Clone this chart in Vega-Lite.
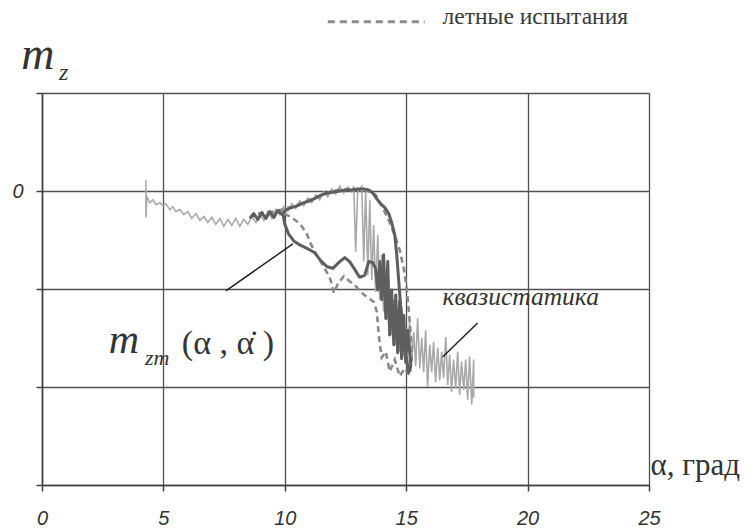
{
  "$schema": "https://vega.github.io/schema/vega-lite/v6.json",
  "autosize": {"type": "none"},
  "width": 607,
  "height": 392,
  "padding": {"left": 42, "top": 93, "right": 107, "bottom": 44},
  "background": "white",
  "config": {
    "view": {"stroke": null},
    "axis": {
      "grid": true, "gridColor": "#505050", "gridWidth": 1.3, "gridOpacity": 1,
      "domainColor": "#404040", "domainWidth": 1.6,
      "tickColor": "#404040", "tickWidth": 1.5, "tickSize": 6,
      "labelFont": "Liberation Sans", "labelFontStyle": "italic", "labelFontSize": 20, "labelColor": "#333333",
      "title": null
    },
    "text": {"font": "'Liberation Serif', 'Times New Roman', 'DejaVu Serif', serif", "color": "#333333", "align": "left", "baseline": "alphabetic"}
  },
  "datasets": {
    "q": [
      {"i":0,"a":4.28,"m":0.11},{"i":1,"a":4.28,"m":-0.27},{"i":2,"a":4.32,"m":-0.06},{"i":3,"a":4.44,"m":-0.12},
      {"i":4,"a":4.57,"m":-0.09},{"i":5,"a":4.69,"m":-0.14},{"i":6,"a":4.86,"m":-0.12},{"i":7,"a":4.98,"m":-0.15},
      {"i":8,"a":5.10,"m":-0.13},{"i":9,"a":5.27,"m":-0.19},{"i":10,"a":5.39,"m":-0.16},{"i":11,"a":5.51,"m":-0.21},
      {"i":12,"a":5.68,"m":-0.19},{"i":13,"a":5.84,"m":-0.24},{"i":14,"a":6.01,"m":-0.21},{"i":15,"a":6.17,"m":-0.28},
      {"i":16,"a":6.34,"m":-0.23},{"i":17,"a":6.50,"m":-0.30},{"i":18,"a":6.67,"m":-0.26},{"i":19,"a":6.83,"m":-0.32},
      {"i":20,"a":7.00,"m":-0.27},{"i":21,"a":7.16,"m":-0.34},{"i":22,"a":7.33,"m":-0.28},{"i":23,"a":7.49,"m":-0.36},
      {"i":24,"a":7.65,"m":-0.29},{"i":25,"a":7.82,"m":-0.35},{"i":26,"a":7.98,"m":-0.28},{"i":27,"a":8.15,"m":-0.36},
      {"i":28,"a":8.31,"m":-0.29},{"i":29,"a":8.48,"m":-0.34},{"i":30,"a":8.64,"m":-0.26},{"i":31,"a":8.81,"m":-0.32},
      {"i":32,"a":8.97,"m":-0.24},{"i":33,"a":9.14,"m":-0.30},{"i":34,"a":9.30,"m":-0.21},{"i":35,"a":9.47,"m":-0.28},
      {"i":36,"a":9.63,"m":-0.19},{"i":37,"a":9.79,"m":-0.24},{"i":38,"a":9.96,"m":-0.16},{"i":39,"a":10.12,"m":-0.21},
      {"i":40,"a":10.29,"m":-0.13},{"i":41,"a":10.45,"m":-0.18},{"i":42,"a":10.62,"m":-0.10},{"i":43,"a":10.78,"m":-0.15},
      {"i":44,"a":10.95,"m":-0.07},{"i":45,"a":11.11,"m":-0.12},{"i":46,"a":11.28,"m":-0.04},{"i":47,"a":11.44,"m":-0.09},
      {"i":48,"a":11.60,"m":-0.01},{"i":49,"a":11.77,"m":-0.06},{"i":50,"a":11.93,"m":0.02},{"i":51,"a":12.10,"m":-0.03},
      {"i":52,"a":12.26,"m":0.05},{"i":53,"a":12.43,"m":-0.02},{"i":54,"a":12.59,"m":0.04},{"i":55,"a":12.76,"m":-0.01},
      {"i":56,"a":12.84,"m":0.05},{"i":57,"a":12.92,"m":-0.62},{"i":58,"a":13.00,"m":-0.01},{"i":59,"a":13.17,"m":0.05},
      {"i":60,"a":13.25,"m":-0.72},{"i":61,"a":13.33,"m":0.01},{"i":62,"a":13.42,"m":-0.86},{"i":63,"a":13.50,"m":-0.09},
      {"i":64,"a":13.58,"m":-0.91},{"i":65,"a":13.66,"m":-0.35},{"i":66,"a":13.74,"m":-1.03},{"i":67,"a":13.83,"m":-0.45},
      {"i":68,"a":13.91,"m":-1.11},{"i":69,"a":13.99,"m":-0.65},{"i":70,"a":14.07,"m":-1.23},{"i":71,"a":14.16,"m":-0.81},
      {"i":72,"a":14.24,"m":-1.32},{"i":73,"a":14.32,"m":-1.01},{"i":74,"a":14.40,"m":-1.47},{"i":75,"a":14.49,"m":-1.11},
      {"i":76,"a":14.57,"m":-1.57},{"i":77,"a":14.65,"m":-1.23},{"i":78,"a":14.73,"m":-1.64},{"i":79,"a":14.81,"m":-1.30},
      {"i":80,"a":14.90,"m":-1.68},{"i":81,"a":14.98,"m":-1.40},{"i":82,"a":15.06,"m":-1.60},{"i":83,"a":15.14,"m":-1.34},
      {"i":84,"a":15.23,"m":-1.74},{"i":85,"a":15.31,"m":-1.44},{"i":86,"a":15.39,"m":-1.79},{"i":87,"a":15.47,"m":-1.30},
      {"i":88,"a":15.56,"m":-1.81},{"i":89,"a":15.64,"m":-1.50},{"i":90,"a":15.72,"m":-1.85},{"i":91,"a":15.80,"m":-1.42},
      {"i":92,"a":15.88,"m":-2.00},{"i":93,"a":15.97,"m":-1.57},{"i":94,"a":16.05,"m":-1.85},{"i":95,"a":16.13,"m":-1.54},
      {"i":96,"a":16.21,"m":-1.95},{"i":97,"a":16.30,"m":-1.60},{"i":98,"a":16.38,"m":-1.93},{"i":99,"a":16.46,"m":-1.64},
      {"i":100,"a":16.54,"m":-1.91},{"i":101,"a":16.63,"m":-1.49},{"i":102,"a":16.71,"m":-1.98},{"i":103,"a":16.79,"m":-1.67},
      {"i":104,"a":16.87,"m":-2.05},{"i":105,"a":16.95,"m":-1.72},{"i":106,"a":17.04,"m":-2.01},{"i":107,"a":17.12,"m":-1.64},
      {"i":108,"a":17.20,"m":-2.08},{"i":109,"a":17.28,"m":-1.74},{"i":110,"a":17.37,"m":-2.03},{"i":111,"a":17.45,"m":-1.72},
      {"i":112,"a":17.53,"m":-2.13},{"i":113,"a":17.61,"m":-1.69},{"i":114,"a":17.70,"m":-2.18},{"i":115,"a":17.78,"m":-1.72},
      {"i":116,"a":17.78,"m":-2.11}
    ],
    "ft": [
      {"i":0,"a":8.89,"m":-0.23},{"i":1,"a":9.38,"m":-0.22},{"i":2,"a":9.88,"m":-0.19},{"i":3,"a":10.45,"m":-0.15},
      {"i":4,"a":11.03,"m":-0.09},{"i":5,"a":11.60,"m":-0.03},{"i":6,"a":12.18,"m":0.01},{"i":7,"a":12.76,"m":0.02},
      {"i":8,"a":13.33,"m":0.01},{"i":9,"a":13.74,"m":-0.04},{"i":10,"a":14.07,"m":-0.19},{"i":11,"a":14.32,"m":-0.32},
      {"i":12,"a":14.57,"m":-0.48},{"i":13,"a":14.73,"m":-0.60},{"i":14,"a":14.90,"m":-0.79},{"i":15,"a":15.02,"m":-0.99},
      {"i":16,"a":15.10,"m":-1.21},{"i":17,"a":15.19,"m":-1.47},{"i":18,"a":15.23,"m":-1.72},{"i":19,"a":15.14,"m":-1.88},
      {"i":20,"a":14.94,"m":-1.81},{"i":21,"a":14.73,"m":-1.89},{"i":22,"a":14.53,"m":-1.72},{"i":23,"a":14.32,"m":-1.84},
      {"i":24,"a":14.16,"m":-1.64},{"i":25,"a":13.99,"m":-1.70},{"i":26,"a":13.87,"m":-1.47},{"i":27,"a":13.79,"m":-1.23},
      {"i":28,"a":13.66,"m":-1.13},{"i":29,"a":13.42,"m":-1.09},{"i":30,"a":13.17,"m":-1.04},{"i":31,"a":12.92,"m":-0.97},
      {"i":32,"a":12.67,"m":-0.92},{"i":33,"a":12.43,"m":-0.87},{"i":34,"a":12.18,"m":-0.95},{"i":35,"a":12.02,"m":-1.04},
      {"i":36,"a":11.89,"m":-0.91},{"i":37,"a":11.73,"m":-0.83},{"i":38,"a":11.48,"m":-0.72},{"i":39,"a":11.28,"m":-0.64},
      {"i":40,"a":11.07,"m":-0.54},{"i":41,"a":10.91,"m":-0.44},{"i":42,"a":10.70,"m":-0.36},{"i":43,"a":10.45,"m":-0.30},
      {"i":44,"a":10.21,"m":-0.26},{"i":45,"a":9.96,"m":-0.23}
    ],
    "mdl": [
      {"i":0,"a":8.56,"m":-0.28},{"i":1,"a":8.72,"m":-0.23},{"i":2,"a":8.89,"m":-0.29},{"i":3,"a":9.05,"m":-0.22},
      {"i":4,"a":9.22,"m":-0.28},{"i":5,"a":9.38,"m":-0.21},{"i":6,"a":9.55,"m":-0.27},{"i":7,"a":9.71,"m":-0.20},
      {"i":8,"a":9.88,"m":-0.24},{"i":9,"a":10.04,"m":-0.19},{"i":10,"a":10.29,"m":-0.17},{"i":11,"a":10.53,"m":-0.15},
      {"i":12,"a":10.78,"m":-0.12},{"i":13,"a":11.03,"m":-0.10},{"i":14,"a":11.28,"m":-0.07},{"i":15,"a":11.52,"m":-0.04},
      {"i":16,"a":11.77,"m":-0.02},{"i":17,"a":12.02,"m":-0.01},{"i":18,"a":12.26,"m":0.0},{"i":19,"a":12.51,"m":0.01},
      {"i":20,"a":12.76,"m":0.01},{"i":21,"a":13.00,"m":0.02},{"i":22,"a":13.25,"m":0.02},{"i":23,"a":13.46,"m":0.01},
      {"i":24,"a":13.62,"m":-0.02},{"i":25,"a":13.79,"m":-0.08},{"i":26,"a":13.95,"m":-0.13},{"i":27,"a":14.12,"m":-0.17},
      {"i":28,"a":14.28,"m":-0.23},{"i":29,"a":14.40,"m":-0.32},{"i":30,"a":14.53,"m":-0.45},{"i":31,"a":14.61,"m":-0.65},
      {"i":32,"a":14.69,"m":-0.91},{"i":33,"a":14.77,"m":-1.16},{"i":34,"a":14.86,"m":-1.37},{"i":35,"a":14.94,"m":-1.57},
      {"i":36,"a":15.02,"m":-1.72},{"i":37,"a":15.10,"m":-1.85},{"i":38,"a":15.19,"m":-1.78},{"i":39,"a":15.06,"m":-1.42},
      {"i":40,"a":14.98,"m":-1.75},{"i":41,"a":14.90,"m":-1.27},{"i":42,"a":14.81,"m":-1.71},{"i":43,"a":14.73,"m":-1.12},
      {"i":44,"a":14.65,"m":-1.65},{"i":45,"a":14.57,"m":-1.06},{"i":46,"a":14.49,"m":-1.57},{"i":47,"a":14.40,"m":-1.01},
      {"i":48,"a":14.32,"m":-1.47},{"i":49,"a":14.24,"m":-0.72},{"i":50,"a":14.16,"m":-1.30},{"i":51,"a":14.07,"m":-0.65},
      {"i":52,"a":13.99,"m":-1.11},{"i":53,"a":13.91,"m":-0.72},{"i":54,"a":13.83,"m":-1.01},{"i":55,"a":13.74,"m":-0.79},
      {"i":56,"a":13.62,"m":-0.73},{"i":57,"a":13.46,"m":-0.72},{"i":58,"a":13.29,"m":-0.86},{"i":59,"a":13.08,"m":-0.88},
      {"i":60,"a":12.88,"m":-0.80},{"i":61,"a":12.67,"m":-0.72},{"i":62,"a":12.47,"m":-0.68},{"i":63,"a":12.22,"m":-0.73},
      {"i":64,"a":11.98,"m":-0.79},{"i":65,"a":11.73,"m":-0.77},{"i":66,"a":11.48,"m":-0.71},{"i":67,"a":11.23,"m":-0.63},
      {"i":68,"a":10.95,"m":-0.59},{"i":69,"a":10.62,"m":-0.55},{"i":70,"a":10.37,"m":-0.51},{"i":71,"a":10.16,"m":-0.44},
      {"i":72,"a":10.00,"m":-0.34},{"i":73,"a":9.92,"m":-0.23}
    ],
    "one": [{"k": 1}]
  },
  "layer": [
    {"data": {"name": "q"}, "mark": {"type": "line", "color": "#a9a9a9", "strokeWidth": 1.6},
     "encoding": {
       "x": {"field": "a", "type": "quantitative", "scale": {"domain": [0, 25], "nice": false, "zero": false},
             "axis": {"values": [0, 5, 10, 15, 20, 25], "labelPadding": 17, "labelFlush": false}},
       "y": {"field": "m", "type": "quantitative", "scale": {"domain": [-3, 1], "nice": false, "zero": false},
             "axis": {"values": [-3, -2, -1, 0, 1], "labelExpr": "datum.value == 0 ? '0' : ''", "labelPadding": 13, "labelFlush": false}},
       "order": {"field": "i", "type": "quantitative"}}},
    {"data": {"name": "ft"}, "mark": {"type": "line", "color": "#8a8a8a", "strokeWidth": 2.6, "strokeDash": [6, 4]},
     "encoding": {"x": {"field": "a", "type": "quantitative"}, "y": {"field": "m", "type": "quantitative"}, "order": {"field": "i", "type": "quantitative"}}},
    {"data": {"name": "mdl"}, "mark": {"type": "line", "color": "#5e5e5e", "strokeWidth": 3, "strokeJoin": "round"},
     "encoding": {"x": {"field": "a", "type": "quantitative"}, "y": {"field": "m", "type": "quantitative"}, "order": {"field": "i", "type": "quantitative"}}},
    {"data": {"name": "one"}, "mark": {"type": "rule", "color": "#222222", "strokeWidth": 1.5},
     "encoding": {"x": {"datum": 7.57, "type": "quantitative"}, "y": {"datum": -1.02, "type": "quantitative"}, "x2": {"datum": 10.33}, "y2": {"datum": -0.54}}},
    {"data": {"name": "one"}, "mark": {"type": "rule", "color": "#222222", "strokeWidth": 1.5},
     "encoding": {"x": {"datum": 16.5, "type": "quantitative"}, "y": {"datum": -1.694, "type": "quantitative"}, "x2": {"datum": 17.94}, "y2": {"datum": -1.347}}},
    {"data": {"name": "one"}, "mark": {"type": "rule", "color": "#8a8a8a", "strokeWidth": 3, "strokeDash": [7, 5]},
     "encoding": {"x": {"datum": 11.77, "type": "quantitative"}, "y": {"datum": 1.727, "type": "quantitative"}, "x2": {"datum": 15.76}, "y2": {"datum": 1.727}}},
    {"data": {"name": "one"}, "mark": {"type": "text", "text": "летные испытания", "fontSize": 23.5, "color": "#3a3a3a"},
     "encoding": {"x": {"datum": 16.5, "type": "quantitative"}, "y": {"datum": 1.70, "type": "quantitative"}}},
    {"data": {"name": "one"}, "mark": {"type": "text", "text": "m", "fontStyle": "italic", "fontSize": 46},
     "encoding": {"x": {"datum": -0.85, "type": "quantitative"}, "y": {"datum": 1.245, "type": "quantitative"}}},
    {"data": {"name": "one"}, "mark": {"type": "text", "text": "z", "fontStyle": "italic", "fontSize": 24},
     "encoding": {"x": {"datum": 0.70, "type": "quantitative"}, "y": {"datum": 1.133, "type": "quantitative"}}},
    {"data": {"name": "one"}, "mark": {"type": "text", "text": "α, град", "fontSize": 31},
     "encoding": {"x": {"datum": 25.06, "type": "quantitative"}, "y": {"datum": -2.898, "type": "quantitative"}}},
    {"data": {"name": "one"}, "mark": {"type": "text", "text": "m", "fontStyle": "italic", "fontSize": 42},
     "encoding": {"x": {"datum": 2.75, "type": "quantitative"}, "y": {"datum": -1.653, "type": "quantitative"}}},
    {"data": {"name": "one"}, "mark": {"type": "text", "text": "zm", "fontStyle": "italic", "fontSize": 22},
     "encoding": {"x": {"datum": 4.24, "type": "quantitative"}, "y": {"datum": -1.776, "type": "quantitative"}}},
    {"data": {"name": "one"}, "mark": {"type": "text", "text": "(α , α̇ )", "fontSize": 34},
     "encoding": {"x": {"datum": 5.76, "type": "quantitative"}, "y": {"datum": -1.663, "type": "quantitative"}}},
    {"data": {"name": "one"}, "mark": {"type": "text", "text": "квазистатика", "fontStyle": "italic", "fontSize": 25.5},
     "encoding": {"x": {"datum": 16.5, "type": "quantitative"}, "y": {"datum": -1.163, "type": "quantitative"}}}
  ]
}
